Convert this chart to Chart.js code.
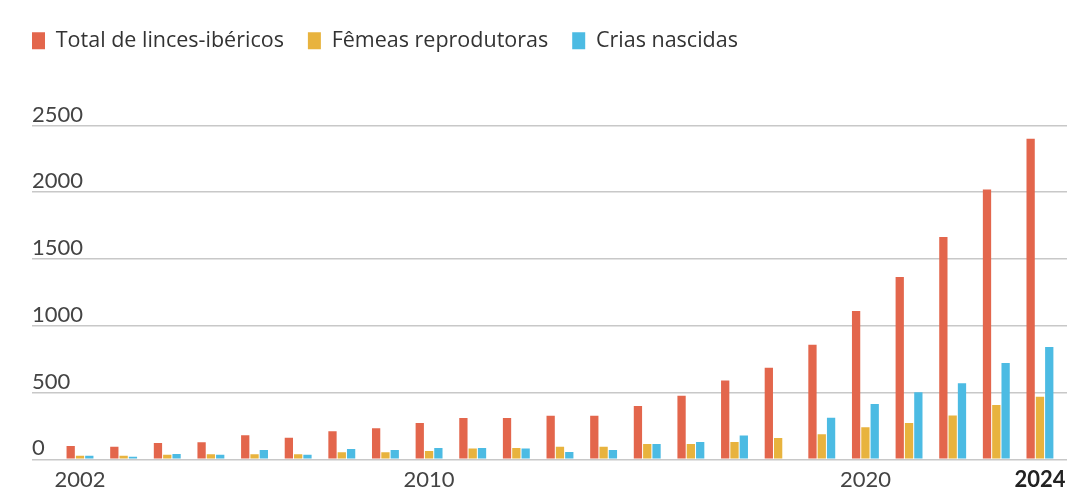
<!DOCTYPE html>
<html><head><meta charset="utf-8">
<script src="https://cdn.jsdelivr.net/npm/chart.js@4/dist/chart.umd.min.js"></script>
<style>
html,body{margin:0;padding:0;background:#fff;}
#wrap{width:1074px;height:503px;position:relative;}
</style></head>
<body><div id="wrap"><canvas id="c" width="1074" height="503"></canvas></div>
<script>
const years = [2002,2003,2004,2005,2006,2007,2008,2009,2010,2011,2012,2013,2014,2015,2016,2017,2018,2019,2020,2021,2022,2023,2024];
const totalLinces = [100,94,122,128,180,162,210,232,272,310,310,327,327,400,476,590,686,858,1111,1365,1665,2021,2401];
const femeas = [27,27,34,38,38,38,52,52,62,80,84,94,94,114,114,130,160,188,240,272,328,406,468];
const crias = [27,19,39,34,70,34,78,70,85,85,80,55,70,115,130,178,null,311,414,503,570,722,841];
const xTicks = [2002,2010,2020,2024];
const yTicks = [0,500,1000,1500,2000,2500];
const seriesNames = ['Total de linces-ibéricos','Fêmeas reprodutoras','Crias nascidas'];
const colors = ['#E3664C','#E8B33E','#4CBBE3'];

const FONT = 'Lato, "Noto Sans", sans-serif';
const LFONT = '"Open Sans", "Noto Sans", sans-serif';
const toPts = arr => arr.map((v,i)=>({x:years[i], y:v}));

const legendSpace = {
  id:'legendSpace',
  beforeInit(chart){
    const lg = chart.legend;
    if(lg && !lg._patched){
      const orig = lg.fit;
      lg.fit = function(){ orig.call(this); this.height += 64; };
      lg._patched = true;
    }
  },
  beforeDraw(chart){
    if(chart.legend){ chart.legend.left = 8; }
  }
};

new Chart(document.getElementById('c'), {
  type:'bar',
  data:{
    datasets:[
      {label:seriesNames[0], data:toPts(totalLinces), backgroundColor:colors[0]},
      {label:seriesNames[1], data:toPts(femeas), backgroundColor:colors[1]},
      {label:seriesNames[2], data:toPts(crias), backgroundColor:colors[2]}
    ]
  },
  options:{
    responsive:false,
    animation:false,
    devicePixelRatio:1,
    layout:{padding:{left:32,right:7,top:6,bottom:0}},
    datasets:{bar:{categoryPercentage:0.64,barPercentage:0.89}},
    plugins:{
      tooltip:{enabled:false},
      legend:{
        display:true, position:'top', align:'start',
        labels:{
          boxWidth:13, boxHeight:17, padding:24,
          color:'#333', font:{family:LFONT,size:21.5}
        }
      }
    },
    scales:{
      x:{
        type:'linear', min:2000.9, max:2024.62, offset:false,
        grid:{display:false, drawTicks:false},
        border:{display:false},
        afterBuildTicks(s){ s.ticks = xTicks.map(v=>({value:v})); },
        afterFit(s){ s.height = 43.7; },
        ticks:{
          autoSkip:false, maxRotation:0, padding:7,
          color:(ctx)=> ctx.tick && ctx.tick.value===2024 ? '#222' : '#444',
          font:(ctx)=> ({family:FONT, size:22, weight: (ctx.tick && ctx.tick.value===2024) ? 'bold' : 'normal'}),
          callback:(v)=>String(v)
        }
      },
      y:{
        min:0, max:2500,
        afterBuildTicks(s){ s.ticks = yTicks.map(v=>({value:v})); },
        grid:{color:'#c8c8c8', lineWidth:1.6, drawTicks:false},
        border:{display:false},
        ticks:{
          mirror:true, padding:0, labelOffset:-11,
          color:'#444', font:{family:FONT,size:22},
          callback:(v)=>String(v)
        }
      }
    }
  },
  plugins:[legendSpace]
});
</script></body></html>
